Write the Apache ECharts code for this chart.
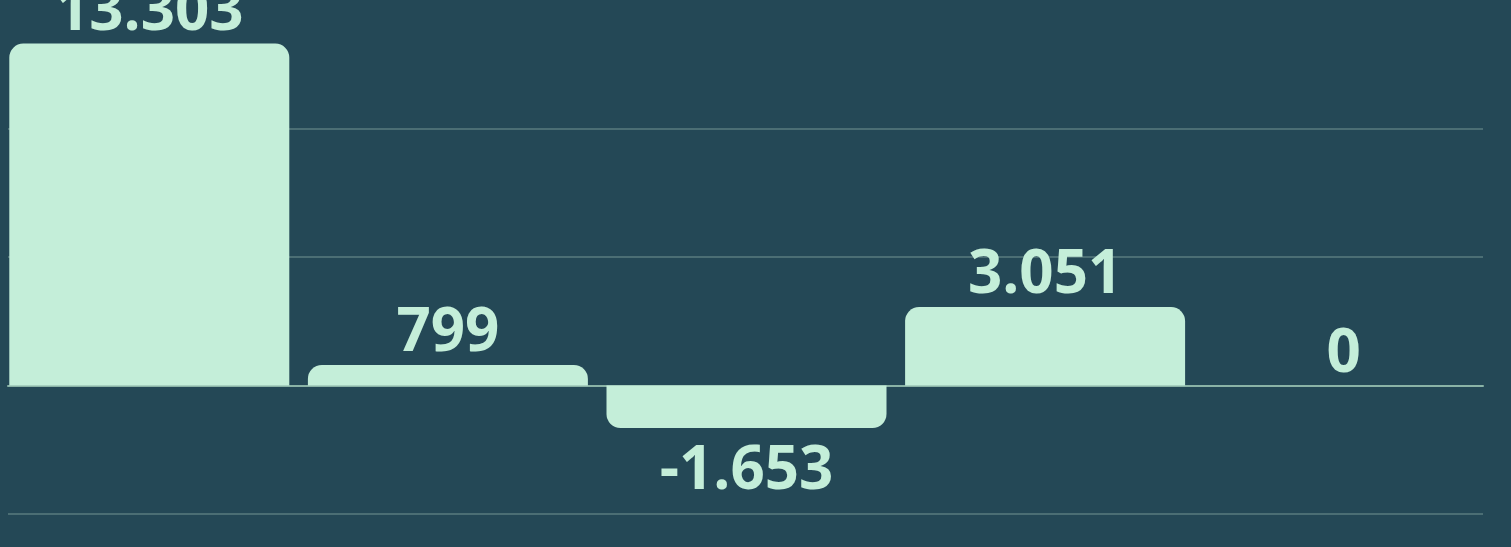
<!DOCTYPE html>
<html>
<head>
<meta charset="utf-8">
<script src="https://cdn.jsdelivr.net/npm/echarts@6/dist/echarts.min.js"></script>
<style>
  html, body { margin: 0; padding: 0; background: #244856; }
  #chart { width: 1511px; height: 547px; }
</style>
</head>
<body>
<div id="chart"></div>
<script>
const categories = ["A", "B", "C", "D", "E"];
const values = [13303, 799, -1653, 3051, 0];
const yTicks = [-5000, 0, 5000, 10000, 15000];

const mint = "#c4eed9";
const fmt = (v) => String(v).replace(/\B(?=(\d{3})+(?!\d))/g, ".");

const chart = echarts.init(document.getElementById("chart"));

const option = {
  backgroundColor: "#244856",
  animation: false,
  grid: [
    { left: 8, right: 28, top: -3, bottom: 33 },
    { left: 0, right: 18, top: -3, bottom: 33 },
  ],
  xAxis: [
    {
      type: "category",
      gridIndex: 0,
      data: categories,
      axisLine: { lineStyle: { color: "#8ab3a6", width: 2 } },
      axisTick: { show: false },
      axisLabel: { show: false },
    },
    {
      type: "category",
      gridIndex: 1,
      data: categories,
      show: false,
    },
  ],
  yAxis: [
    {
      type: "value",
      gridIndex: 0,
      min: yTicks[0],
      max: yTicks[yTicks.length - 1],
      interval: 5000,
      axisLabel: { show: false },
      axisLine: { show: false },
      axisTick: { show: false },
      splitLine: { showMaxLine: false, lineStyle: { color: "#4b6e74", width: 2 } },
    },
    {
      type: "value",
      gridIndex: 1,
      min: yTicks[0],
      max: yTicks[yTicks.length - 1],
      interval: 5000,
      show: false,
      splitLine: { show: false },
    },
  ],
  series: [
    {
      type: "bar",
      xAxisIndex: 1,
      yAxisIndex: 1,
      barWidth: 280,
      data: values.map((v) => ({
        value: v,
        itemStyle: { borderRadius: v < 0 ? [0, 0, 14, 14] : [14, 14, 0, 0] },
        label: v < 0 ? { position: "bottom", distance: 14 } : { position: "top", distance: 1 },
      })),
      itemStyle: { color: mint },
      label: {
        show: true,
        color: mint,
        fontFamily: "Open Sans",
        fontWeight: "bold",
        fontSize: 60,
        formatter: (p) => fmt(p.value),
      },
    },
  ],
};

chart.setOption(option);
</script>
</body>
</html>
